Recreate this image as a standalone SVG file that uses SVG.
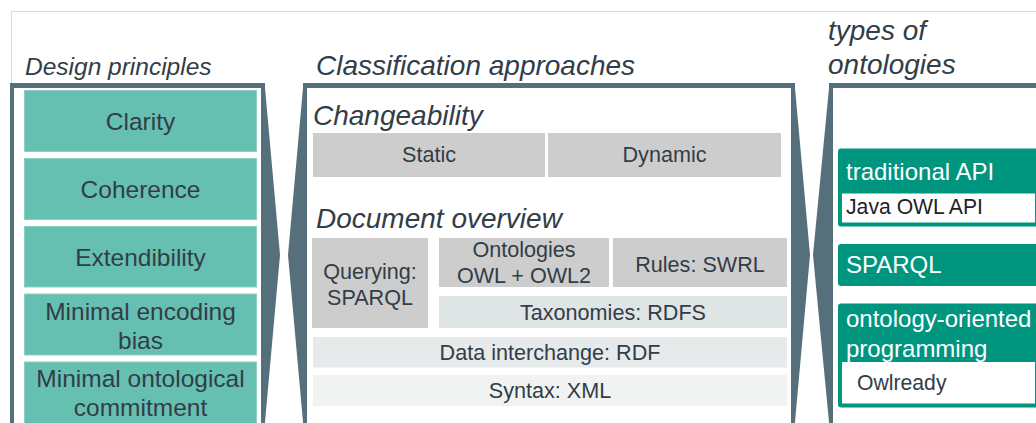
<svg xmlns="http://www.w3.org/2000/svg" width="1036" height="423" viewBox="0 0 1036 423">
  <style>
    text { font-family: "Liberation Sans", Arial, sans-serif; fill: #323d47; }
    .head { font-style: italic; font-size: 28px; }
    .head-s { font-style: italic; font-size: 24.5px; }
    .frame { fill: #55707b; }
    .inner { fill: #ffffff; }
    .principle { fill: #66c0b2; stroke: #8ad0c4; stroke-width: 1; }
    .principle-t { font-size: 24.5px; text-anchor: middle; }
    .layer-t { font-size: 21.6px; text-anchor: middle; }
    .g1 { fill: #cdcdcd; }
    .g2 { fill: #dfe4e5; }
    .g3 { fill: #e6eaea; }
    .g4 { fill: #f1f3f3; }
    .kind { fill: #00957f; }
    .kind-t { font-size: 24px; fill: #ffffff; }
    .tool { fill: #ffffff; }
    .tool-t { font-size: 21.2px; fill: #1f2328; }
  </style>

  <!-- page outline -->
  <rect x="11.5" y="11.5" width="1040" height="430" fill="none" stroke="#dcdcdc" stroke-width="1"/>

  <!-- panel frames with funnel wedges -->
  <g id="frames">
    <polygon class="frame" points="10,83 265,83 265,88 280,255 265,422 265,430 10,430"/>
    <rect class="inner" x="14" y="88" width="247" height="345"/>

    <polygon class="frame" points="303,83 795,83 795,88 810,255 795,422 795,430 303,430 303,422 288,255 303,88"/>
    <rect class="inner" x="307" y="88" width="484" height="345"/>

    <polygon class="frame" points="829,83 1040,83 1040,430 829,430 829,422 813,255 829,88"/>
    <rect class="inner" x="833" y="88" width="210" height="345"/>
  </g>

  <!-- column headings -->
  <g id="headings">
    <text class="head-s" x="25" y="75">Design principles</text>
    <text class="head" x="316" y="75">Classification approaches</text>
    <text class="head" x="828" y="40">types of</text>
    <text class="head" x="828" y="74">ontologies</text>
    <text class="head" x="313" y="125">Changeability</text>
    <text class="head" x="316" y="228">Document overview</text>
  </g>

  <!-- design principles -->
  <g id="clarity">
    <rect class="principle" x="24.5" y="90.5" width="232" height="61"/>
    <text class="principle-t" x="140.5" y="130">Clarity</text>
  </g>
  <g id="coherence">
    <rect class="principle" x="24.5" y="158.5" width="232" height="61"/>
    <text class="principle-t" x="140.5" y="198">Coherence</text>
  </g>
  <g id="extendibility">
    <rect class="principle" x="24.5" y="226.5" width="232" height="60.5"/>
    <text class="principle-t" x="140.5" y="265.5">Extendibility</text>
  </g>
  <g id="encoding-bias">
    <rect class="principle" x="24.5" y="294" width="232" height="61"/>
    <text class="principle-t" x="140.5" y="320">Minimal encoding</text>
    <text class="principle-t" x="140.5" y="348.5">bias</text>
  </g>
  <g id="ontological-commitment">
    <rect class="principle" x="24.5" y="362" width="232" height="70"/>
    <text class="principle-t" x="140.5" y="387">Minimal ontological</text>
    <text class="principle-t" x="140.5" y="415.5">commitment</text>
  </g>

  <!-- changeability -->
  <g id="static">
    <rect class="g1" x="313" y="133" width="232" height="44"/>
    <text class="layer-t" x="429" y="162">Static</text>
  </g>
  <g id="dynamic">
    <rect class="g1" x="548" y="133" width="233" height="44"/>
    <text class="layer-t" x="664.5" y="162">Dynamic</text>
  </g>

  <!-- semantic web layers -->
  <g id="querying">
    <rect class="g1" x="312" y="238" width="116" height="90"/>
    <text class="layer-t" x="370" y="279">Querying:</text>
    <text class="layer-t" x="370" y="305">SPARQL</text>
  </g>
  <g id="ontologies">
    <rect class="g1" x="439" y="238" width="170" height="49"/>
    <text class="layer-t" x="524" y="257">Ontologies</text>
    <text class="layer-t" x="524" y="283">OWL + OWL2</text>
  </g>
  <g id="rules">
    <rect class="g1" x="613" y="238" width="174" height="49"/>
    <text class="layer-t" x="700" y="272">Rules: SWRL</text>
  </g>
  <g id="taxonomies">
    <rect class="g2" x="439" y="296" width="348" height="32"/>
    <text class="layer-t" x="613" y="320">Taxonomies: RDFS</text>
  </g>
  <g id="data-interchange">
    <rect class="g3" x="313" y="337" width="474" height="30.5"/>
    <text class="layer-t" x="550" y="360">Data interchange: RDF</text>
  </g>
  <g id="syntax">
    <rect class="g4" x="313" y="375" width="474" height="31"/>
    <text class="layer-t" x="550" y="398">Syntax: XML</text>
  </g>

  <!-- types of ontologies -->
  <g id="traditional-api">
    <rect class="kind" x="838" y="148.5" width="210" height="78" rx="3"/>
    <text class="kind-t" x="846" y="180">traditional API</text>
    <rect class="tool" x="842" y="193.5" width="193" height="29"/>
    <text class="tool-t" x="846" y="214">Java OWL API</text>
  </g>
  <g id="sparql">
    <rect class="kind" x="838" y="244" width="210" height="42" rx="3"/>
    <text class="kind-t" x="846" y="273">SPARQL</text>
  </g>
  <g id="ontology-oriented">
    <rect class="kind" x="838" y="303.5" width="210" height="104" rx="3"/>
    <text class="kind-t" x="846" y="327">ontology-oriented</text>
    <text class="kind-t" x="846" y="357">programming</text>
    <rect class="tool" x="842" y="362" width="193" height="41.5"/>
    <text class="tool-t" x="857" y="390" style="fill:#323d47">Owlready</text>
  </g>
</svg>
